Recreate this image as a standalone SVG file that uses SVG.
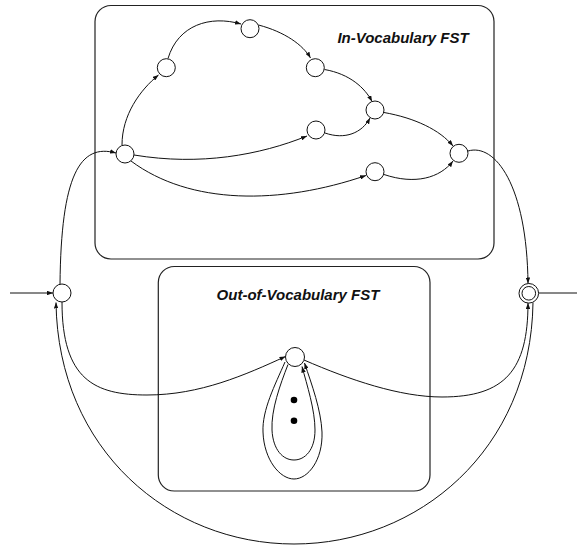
<svg xmlns="http://www.w3.org/2000/svg" width="577" height="546" viewBox="0 0 577 546">
<style>
.box{fill:none;stroke:#222;stroke-width:1.2}
.st{fill:#fff;stroke:#111;stroke-width:1}
.e{fill:none;stroke:#111;stroke-width:1}
.lbl{font-family:"Liberation Sans",Arial,sans-serif;font-weight:bold;font-style:italic;font-size:15px;fill:#111}
</style>
<defs>
<marker id="arr" viewBox="0 0 8 6" refX="8" refY="3" markerWidth="6" markerHeight="4.5" markerUnits="userSpaceOnUse" orient="auto">
<path d="M0,0 L8,3 L0,6 z" fill="#111"/>
</marker>
</defs>
<g id="iv-box">
<rect class="box" x="95" y="5.5" width="399" height="253.5" rx="16"/>
<text class="lbl" x="403" y="43" text-anchor="middle">In-Vocabulary FST</text>
</g>
<g id="oov-box">
<rect class="box" x="158.3" y="266.5" width="271.7" height="224.5" rx="16"/>
<text class="lbl" x="298" y="299.5" text-anchor="middle">Out-of-Vocabulary FST</text>
</g>
<g id="connectors">
<path class="e" d="M10,293 L53,293" marker-end="url(#arr)"/>
<path class="e" d="M539,293 L577,293"/>
<path class="e" d="M60,284.5 C61,175 80,143 116,153" marker-end="url(#arr)"/>
<path class="e" d="M122,145 C122,115 140,90 158.5,75" marker-end="url(#arr)"/>
<path class="e" d="M168,58.5 C178,25 210,15 241,24" marker-end="url(#arr)"/>
<path class="e" d="M258.5,25 C285,32 303,45 310.5,58" marker-end="url(#arr)"/>
<path class="e" d="M324.5,69.5 C350,74 365,88 372,101.5" marker-end="url(#arr)"/>
<path class="e" d="M325,133 C345,140 362,133 370,118" marker-end="url(#arr)"/>
<path class="e" d="M134,155 C200,166 260,155 307,136" marker-end="url(#arr)"/>
<path class="e" d="M384,112.5 C415,118 440,130 453,146" marker-end="url(#arr)"/>
<path class="e" d="M131,161 C190,205 280,205 366,175.5" marker-end="url(#arr)"/>
<path class="e" d="M384,174.5 C415,185 440,178 453,161" marker-end="url(#arr)"/>
<path class="e" d="M468,151 C495,143 527,185 528,283.5" marker-end="url(#arr)"/>
<path class="e" d="M62,302 C62,380 95,395 147,395 C200,395 245,375 285.5,356.5" marker-end="url(#arr)"/>
<path class="e" d="M304,360 C350,380 400,397 442,397 C505,397 528,370 528,303" marker-end="url(#arr)"/>
<path class="e" d="M533,302.5 C531,450 418,544 294,544 C170,544 58,450 56,302.5" marker-end="url(#arr)"/>
<path class="e" d="M288,364.5 C280,385 271,410 272,430 C273,450 283,460 294,460 C305,460 315,450 315,430 C315,410 307,385 302,366.5" marker-end="url(#arr)"/>
<path class="e" d="M285,362 C275,385 262,410 263,432 C264,460 280,479 294,479 C308,479 323,460 322,432 C321,410 312,385 304.5,363" marker-end="url(#arr)"/>
</g>
<g id="S"><circle class="st" cx="62" cy="293" r="9"/></g>
<g id="T"><circle class="st" cx="528.8" cy="293.3" r="9.8"/><circle class="st" cx="528.8" cy="293.3" r="6.8"/></g>
<g id="A"><circle class="st" cx="125" cy="154" r="9"/></g>
<g id="B"><circle class="st" cx="166.3" cy="67.7" r="9"/></g>
<g id="C"><circle class="st" cx="250" cy="28.7" r="9"/></g>
<g id="D"><circle class="st" cx="315.3" cy="67.7" r="9"/></g>
<g id="E"><circle class="st" cx="375" cy="110" r="9"/></g>
<g id="F"><circle class="st" cx="316" cy="130" r="9"/></g>
<g id="G"><circle class="st" cx="459" cy="153.3" r="9"/></g>
<g id="H"><circle class="st" cx="375" cy="171.7" r="9"/></g>
<g id="O"><circle class="st" cx="295" cy="357" r="9.5"/></g>
<g id="dots"><circle cx="294" cy="400" r="3.3" fill="#000"/><circle cx="294" cy="420.7" r="3.3" fill="#000"/></g>
</svg>
